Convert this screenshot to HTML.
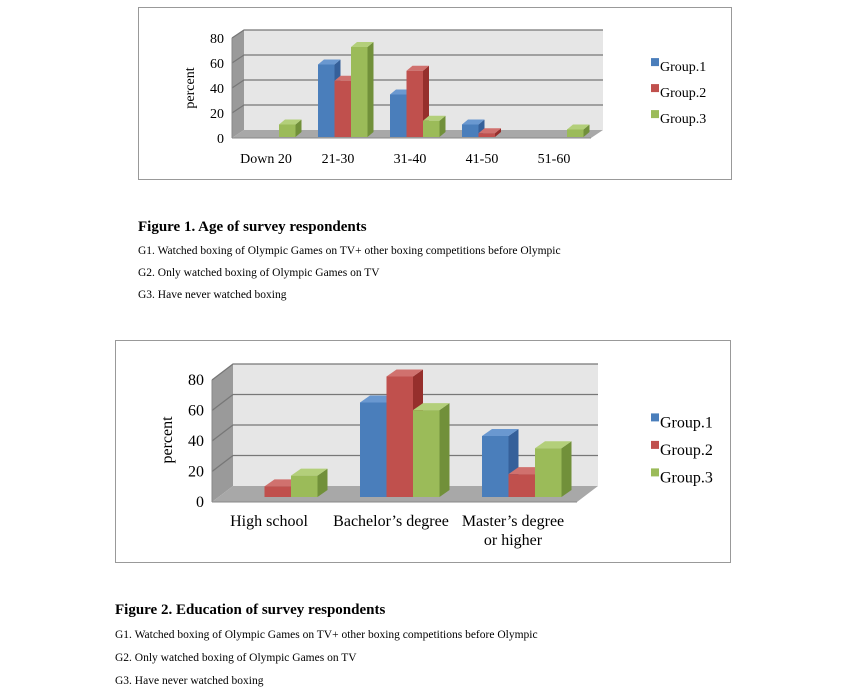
<!DOCTYPE html>
<html><head><meta charset="utf-8"><style>
body{margin:0;background:#fff;width:867px;height:690px;overflow:hidden;font-family:"Liberation Serif",serif}
svg{position:absolute;left:0;top:0}
text{font-family:"Liberation Serif",serif;fill:#000}
</style></head><body>
<svg id="s" width="867" height="690">
<rect x="138.5" y="7.5" width="593" height="172" fill="#fff" stroke="#999"/>
<rect x="115.5" y="340.5" width="615" height="222" fill="#fff" stroke="#999"/>
<g id="c1"></g>
<g id="c2"></g>
<text x="138" y="231" font-size="15" font-weight="bold">Figure 1. Age of survey respondents</text>
<text x="138" y="254" font-size="11.5">G1. Watched boxing of Olympic Games on TV+ other boxing competitions before Olympic</text>
<text x="138" y="276" font-size="11.5">G2. Only watched boxing of Olympic Games on TV</text>
<text x="138" y="298" font-size="11.5">G3. Have never watched boxing</text>
<text x="115" y="614" font-size="15" font-weight="bold">Figure 2. Education of survey respondents</text>
<text x="115" y="638" font-size="11.5">G1. Watched boxing of Olympic Games on TV+ other boxing competitions before Olympic</text>
<text x="115" y="661" font-size="11.5">G2. Only watched boxing of Olympic Games on TV</text>
<text x="115" y="684" font-size="11.5">G3. Have never watched boxing</text>
</svg>
<script>
const ageCategories=["Down 20","21-30","31-40","41-50","51-60"];
const ageGroup1=[0,58,34,10,0];
const ageGroup2=[0,45,53,3,0];
const ageGroup3=[10,72,13,0,6];
const eduCategories=[["High school"],["Bachelor’s degree"],["Master’s degree","or higher"]];
const eduGroup1=[0,62,40];
const eduGroup2=[7,79,15];
const eduGroup3=[14,57,32];
const yTicks=[0,20,40,60,80];
const seriesNames=["Group.1","Group.2","Group.3"];
const NS="http://www.w3.org/2000/svg";
const cols=[["#4a7ebb","#6a98d0","#35609a"],["#c0504d","#d0716e","#962f2c"],["#9bbb59","#b3cf7a","#71903a"]];
function mk(p,t,a){const e=document.createElementNS(NS,t);for(const k in a)e.setAttribute(k,a[k]);p.appendChild(e);return e;}
function poly(p,pts,f,name){const e=mk(p,"polygon",{points:pts.map(q=>q.join(",")).join(" "),fill:f,stroke:"none"});

return e;}
function draw(g,o,cats,series){
 const yF=v=>o.fy0-v*o.sc, yB=v=>o.fy0-o.dy-v*o.sc;
 const ax=o.ax, bx=ax+o.dx, rx=o.rx, frx=rx-o.dx;
 poly(g,[[bx,yB(0)],[rx,yB(0)],[rx,yB(80)],[bx,yB(80)]],"#e6e6e6","back-wall");
 poly(g,[[ax,yF(0)],[bx,yB(0)],[bx,yB(80)],[ax,yF(80)]],"#9a9a9a","side-wall");
 poly(g,[[ax,yF(0)],[frx,yF(0)],[rx,yB(0)],[bx,yB(0)]],"#a8a8a8","floor");
 yTicks.forEach(v=>{
  if(v>0){const l=mk(g,"polyline",{points:`${ax},${yF(v)} ${bx},${yB(v)} ${rx},${yB(v)}`,fill:"none",stroke:"#777","stroke-width":1.3});
  
  }
  const t=mk(g,"text",{x:ax-8,y:yF(v)+5,"text-anchor":"end","font-size":o.fs});t.textContent=v;
  
  
 });
 const al=mk(g,"line",{x1:ax,y1:yF(0),x2:ax,y2:yF(80),stroke:"#888"});
 
 
 const bl=mk(g,"line",{x1:ax,y1:yF(0),x2:frx,y2:yF(0),stroke:"#888"});
 
 
 const yt=mk(g,"text",{x:0,y:0,"text-anchor":"middle","font-size":o.fs,transform:`translate(${o.ytx},${o.yty}) rotate(-90)`});yt.textContent="percent";
 
 
 cats.forEach((c,i)=>{
  series.forEach((s,j)=>{
   const v=s[i]; if(v<=0) return;
   const x=o.x0+i*o.sp+j*o.bw, y0=o.by0, y1=o.by0-v*o.sc, w=o.bw, d=o.bd, e=o.be;
   const b=mk(g,"g",{});
   
   
   poly(b,[[x+w,y0],[x+w+d,y0-e],[x+w+d,y1-e],[x+w,y1]],cols[j][2],"bar-side");
   poly(b,[[x,y1],[x+w,y1],[x+w+d,y1-e],[x+d,y1-e]],cols[j][1],"bar-top");
   poly(b,[[x,y0],[x+w,y0],[x+w,y1],[x,y1]],cols[j][0],"bar-front");
  });
  const lines=Array.isArray(c)?c:[c];
  lines.forEach((ln,k)=>{const t=mk(g,"text",{x:o.lx0+i*o.sp,y:o.ly+k*19,"text-anchor":"middle","font-size":o.fs});t.textContent=ln;
  
  });
 });
 seriesNames.forEach((n,j)=>{
  const y=o.lgy+j*o.lgs;
  const r=mk(g,"rect",{x:o.lgx,y:y-o.fs*0.35-4,width:8,height:8,fill:cols[j][0]});
  
  
  const t=mk(g,"text",{x:o.lgx+9,y:y+o.fs*0.35-1,"font-size":o.fs});t.textContent=n;
  
  
 });
}
draw(document.getElementById("c1"),{fy0:138,sc:1.25,dy:8,dx:12,ax:232,rx:603,fs:14,ytx:194,yty:88,
 x0:246,sp:72,bw:16.5,bd:6,be:5,by0:137,lx0:266,ly:163,lgx:651,lgy:67,lgs:26},ageCategories,[ageGroup1,ageGroup2,ageGroup3]);
draw(document.getElementById("c2"),{fy0:502,sc:1.525,dy:16,dx:21,ax:212,rx:598,fs:16,ytx:172,yty:440,
 x0:238,sp:122,bw:26.5,bd:10,be:7,by0:497,lx0:269,ly:526,lgx:651,lgy:423,lgs:27.5},eduCategories,[eduGroup1,eduGroup2,eduGroup3]);
</script>
</body></html>
